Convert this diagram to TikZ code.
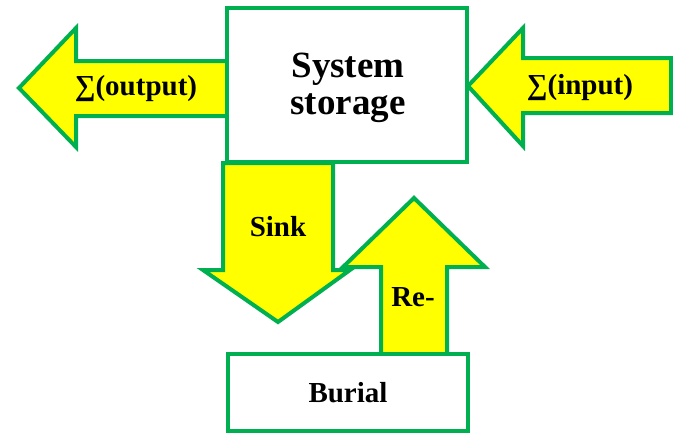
\documentclass[tikz,border=0pt]{standalone}
\usepackage{fontspec}
\setmainfont{Liberation Serif}
\usetikzlibrary{positioning}
\definecolor{flowgreen}{HTML}{00B050}
\definecolor{flowyellow}{HTML}{FFFF00}

\begin{document}
\begin{tikzpicture}[
        x=1pt, y=-1pt,
        box/.style={rectangle, draw=flowgreen, line width=4pt, fill=white, align=center, font=\bfseries\fontsize{29}{30}\selectfont},
        blockarrow/.style={draw=flowgreen, fill=flowyellow, line width=4pt, line join=miter},
        lbl/.style={font=\bfseries\fontsize{29}{30}\selectfont, inner sep=0pt}
    ]
        \useasboundingbox (0,0) rectangle (673,434);
        % block arrows
        \draw[blockarrow] (227,61) -- (76,61) -- (76,28) -- (19,88) -- (76,147) -- (76,116) -- (227,116) -- cycle;
        \draw[blockarrow] (671,58) -- (523,58) -- (523,28) -- (468,86) -- (523,146) -- (523,113) -- (671,113) -- cycle;
        \draw[blockarrow] (223,163) -- (333,163) -- (333,270) -- (350,270) -- (278,322) -- (203,270) -- (223,270) -- cycle;
        \draw[blockarrow] (381,354) -- (381,267) -- (343,267) -- (414,198) -- (485,267) -- (447,267) -- (447,354) -- cycle;
        % boxes
        \node[box, minimum width=240pt, minimum height=154pt] (storage) at (347,85) {};
        \node[box, minimum width=240pt, minimum height=77pt] (burial) at (348,392.5) {Burial};
        % labels
        \node[lbl, align=center, font=\bfseries\fontsize{37}{37}\selectfont] (storagelbl) at (348,88) {System\\storage};
        \node[lbl] (output) at (136,89) {∑(output)};
        \node[lbl] (input) at (580,88) {∑(input)};
        \node[lbl] (sink) at (278,227) {Sink};
        \node[lbl] (re) at (413,297) {Re-};
    \end{tikzpicture}
\end{document}
